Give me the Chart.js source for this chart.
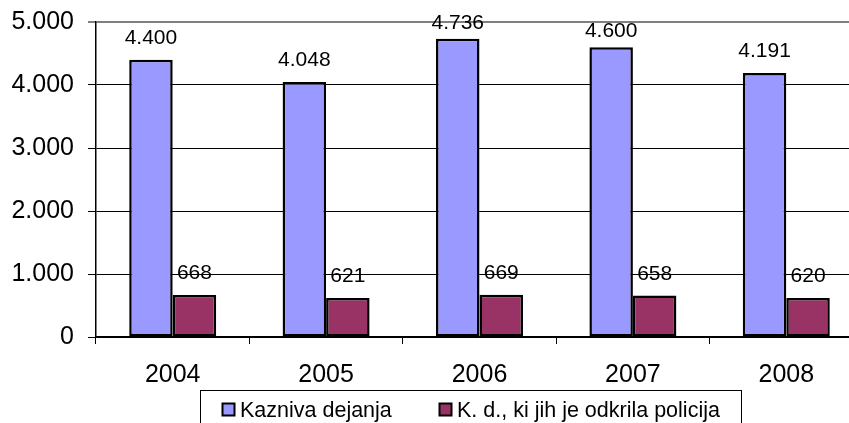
<!DOCTYPE html>
<html>
<head>
<meta charset="utf-8">
<script src="https://cdn.jsdelivr.net/npm/chart.js@4.4.0/dist/chart.umd.min.js"></script>
<style>
  html, body { margin: 0; padding: 0; background: #fff; overflow: hidden; }
  #wrap { width: 864px; height: 423px; }
</style>
</head>
<body>
<div id="wrap"><canvas id="myChart" width="864" height="423"></canvas></div>
<script>
const years = ['2004', '2005', '2006', '2007', '2008'];
const kaznivaDejanja = [4400, 4048, 4736, 4600, 4191];
const odkrilaPolicija = [668, 621, 669, 658, 620];
const yTicks = [0, 1000, 2000, 3000, 4000, 5000];

const FONT = '"Liberation Sans", Arial, sans-serif';

function fmt(v) {
    return String(v).replace(/\B(?=(\d{3})+(?!\d))/g, '.');
}

// values above the bars
const barLabels = {
    id: 'barLabels',
    afterDatasetsDraw(chart) {
        const ctx = chart.ctx;
        ctx.save();
        ctx.font = '21px ' + FONT;
        ctx.fillStyle = '#000';
        ctx.textAlign = 'center';
        ctx.textBaseline = 'alphabetic';
        chart.data.datasets.forEach((ds, i) => {
            chart.getDatasetMeta(i).data.forEach((bar, j) => {
                // labels close to the top edge sit a bit lower
                let y = bar.y - 16;
                if (y < 40) y = bar.y - 10;
                ctx.fillText(fmt(ds.data[j]), bar.x, y);
            });
        });
        ctx.restore();
    }
};

// boxed legend like the original
const boxLegend = {
    id: 'boxLegend',
    afterDraw(chart) {
        const ctx = chart.ctx;
        ctx.save();
        ctx.strokeStyle = '#000';
        ctx.lineWidth = 1;
        ctx.strokeRect(200.5, 390.5, 541, 40);
        ctx.font = '21.5px ' + FONT;
        ctx.textBaseline = 'alphabetic';
        ctx.textAlign = 'left';
        const xs = [222, 439];
        chart.data.datasets.forEach((ds, i) => {
            ctx.fillStyle = ds.backgroundColor;
            ctx.fillRect(xs[i], 403, 13, 13);
            ctx.lineWidth = 2;
            ctx.strokeRect(xs[i] + 0.5, 403.5, 12, 12);
            ctx.fillStyle = '#000';
            ctx.fillText(ds.label, xs[i] + 18, 417);
        });
        ctx.restore();
    }
};

const config = {
    type: 'bar',
    data: {
        labels: years,
        datasets: [
            {
                label: 'Kazniva dejanja',
                backgroundColor: '#9999FF',
                borderColor: '#000',
                borderWidth: 2.5,
                borderSkipped: false,
                data: kaznivaDejanja
            },
            {
                label: 'K. d., ki jih je odkrila policija',
                backgroundColor: '#993366',
                borderColor: '#000',
                borderWidth: 2.5,
                borderSkipped: false,
                data: odkrilaPolicija
            }
        ]
    },
    options: {
        responsive: false,
        animation: false,
        layout: { padding: { top: 22, right: 1, left: 0, bottom: 0 } },
        plugins: {
            legend: { display: false },
            tooltip: { enabled: false }
        },
        datasets: {
            bar: { categoryPercentage: 0.567, barPercentage: 1 }
        },
        scales: {
            x: {
                grid: {
                    offset: true,
                    drawOnChartArea: false,
                    drawTicks: true,
                    tickLength: 7,
                    color: '#000'
                },
                border: { color: '#000', width: 1.5 },
                ticks: {
                    color: '#000',
                    font: { family: FONT, size: 25 },
                    padding: 16,
                    maxRotation: 0
                },
                afterFit(scale) {
                    scale.height = 86;
                    scale.paddingLeft = 0;
                    scale.paddingRight = 0;
                }
            },
            y: {
                min: 0,
                max: 5000,
                afterBuildTicks(scale) {
                    scale.ticks = yTicks.map(v => ({ value: v }));
                },
                grid: {
                    color: ctx => ctx.tick && ctx.tick.value === 5000 ? '#808080' : '#000',
                    lineWidth: ctx => ctx.tick && ctx.tick.value === 5000 ? 2 : 1,
                    drawTicks: true,
                    tickLength: 8
                },
                border: { color: '#000', width: 1.5 },
                ticks: {
                    color: '#000',
                    font: { family: FONT, size: 25 },
                    padding: 14,
                    callback: v => fmt(v)
                },
                afterFit(scale) {
                    scale.width = 96;
                    scale.paddingTop = 0;
                    scale.paddingBottom = 0;
                }
            }
        }
    },
    plugins: [barLabels, boxLegend]
};

var myChart = new Chart(document.getElementById('myChart'), config);
</script>
</body>
</html>
